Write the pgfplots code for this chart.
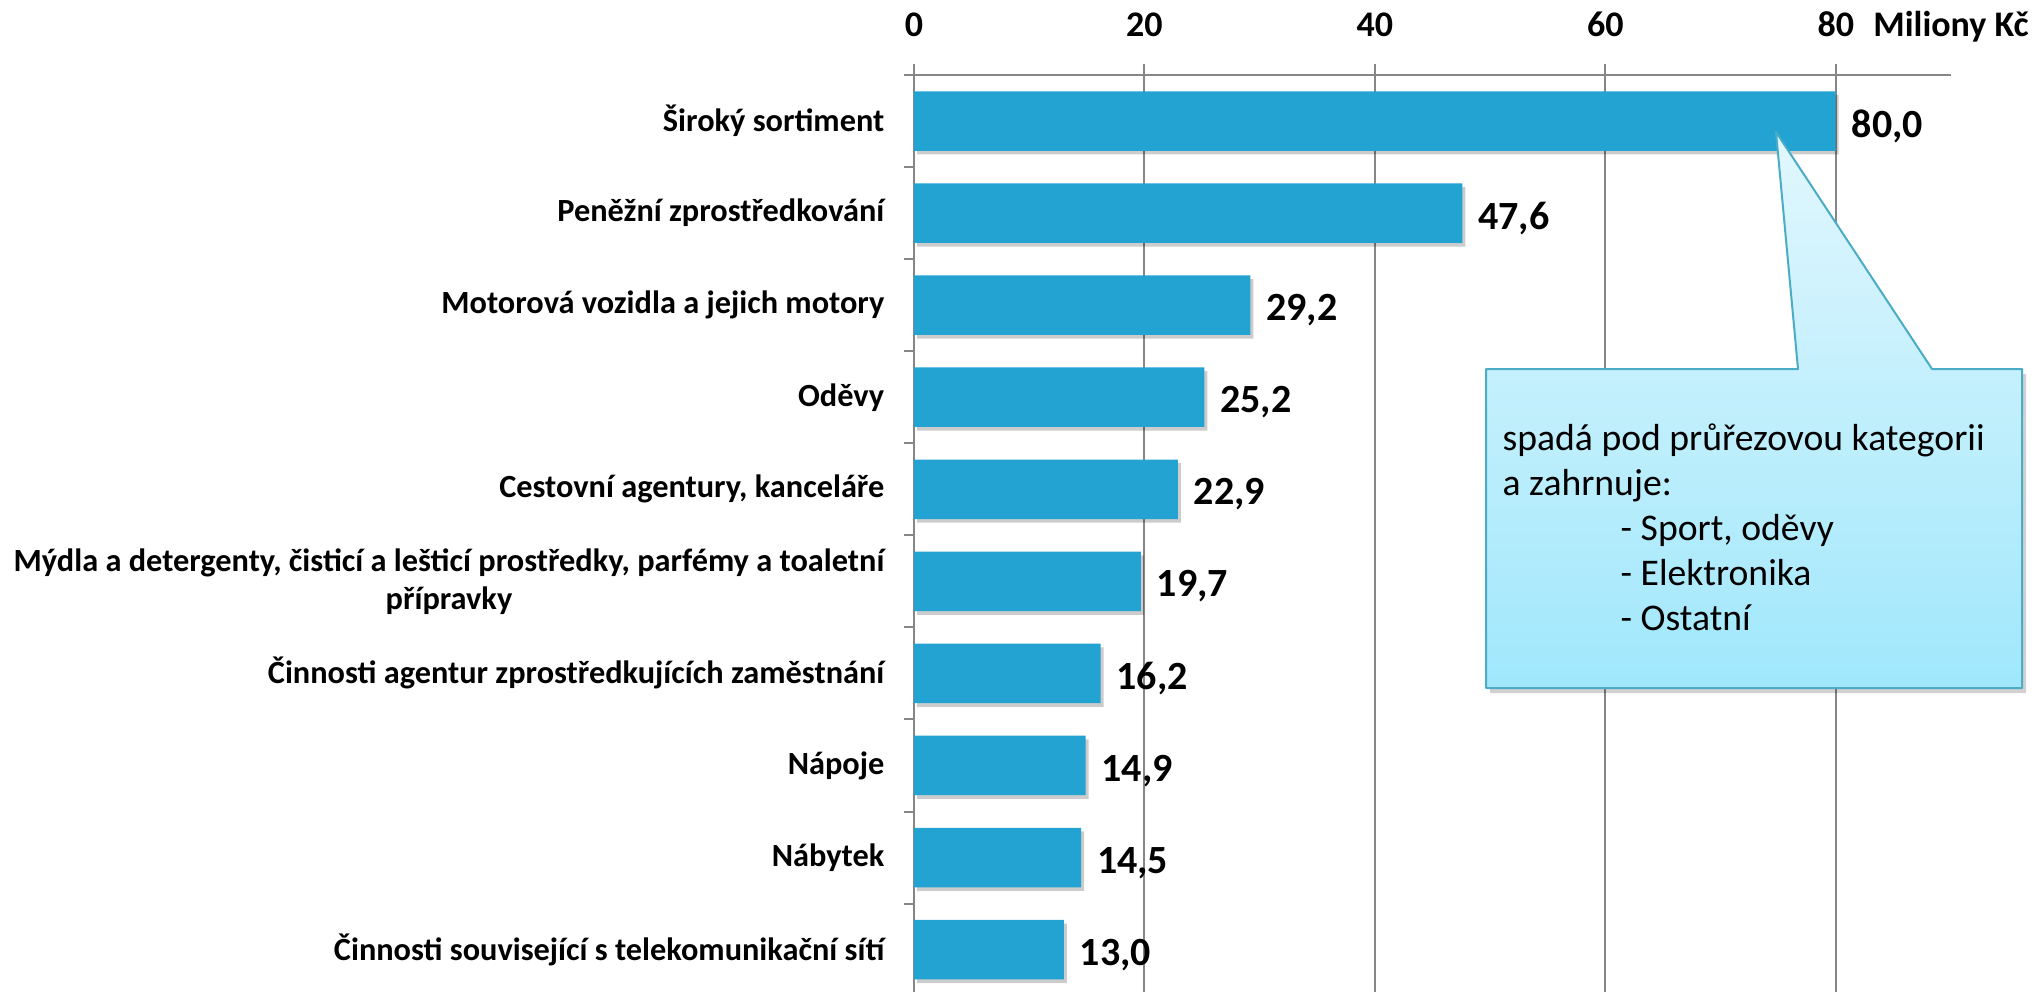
\documentclass[border=0pt]{standalone}
\usepackage{pgfplots}
\pgfplotsset{compat=1.18}
\usepackage{fontspec}
\setmainfont{Carlito}
\usetikzlibrary{shadows}
\definecolor{barblue}{HTML}{22A3D2}
\definecolor{gridgray}{HTML}{868686}
\definecolor{callborder}{HTML}{4BACC6}
\definecolor{calltop}{HTML}{E2F7FD}
\definecolor{callbot}{HTML}{A0E7FC}
\begin{document}
\begin{tikzpicture}
\begin{axis}[
  name=ax, at={(0pt,0pt)}, anchor=north west,
  scale only axis, width=311.1pt, height=276.2pt,
  xbar, bar width=17.85pt,
  xmin=0, xmax=90, ymin=-0.5, ymax=9.5,
  enlargelimits=false, clip=false,
  axis x line*=top, axis y line*=left,
  axis line style={draw=gridgray, line width=0.6pt, -},
  tick align=outside,
  major tick length=3.3pt, minor tick length=3pt,
  tick style={draw=gridgray, line width=0.6pt},
  xtick={0,20,40,60,80},
  xticklabels={0,20,40,60,80},
  extra x ticks={90},
  extra x tick labels={Miliony Kč},
  extra x tick style={grid=none, tick style={draw=none}},
  xmajorgrids,
  major grid style={draw=gridgray, line width=0.6pt},
  ytick={0,...,9},
  yticklabels={Činnosti související s telekomunikační sítí, Nábytek, Nápoje, Činnosti agentur zprostředkujících zaměstnání, {Mýdla a detergenty, čisticí a lešticí prostředky, parfémy a toaletní\\přípravky}, {Cestovní agentury, kanceláře}, Oděvy, Motorová vozidla a jejich motory, Peněžní zprostředkování, Široký sortiment},
  minor ytick={-0.5,0.5,...,9.5},
  major y tick style={draw=none},
  yticklabel style={font=\bfseries\fontsize{9.7}{11.4}\selectfont, align=center, inner sep=0pt, xshift=-5.4pt},
  xticklabel style={font=\bfseries\fontsize{10.8}{12}\selectfont, inner sep=0pt, text depth=0pt, yshift=8pt},
  nodes near coords,
  every node near coord/.append style={font=\bfseries\fontsize{12}{14}\selectfont, anchor=west, inner sep=0pt, xshift=4.6pt, text depth=0pt, yshift=-0.75pt, color=black},
  /pgf/number format/fixed, /pgf/number format/fixed zerofill,
  /pgf/number format/precision=1, /pgf/number format/use comma,
  /pgf/number format/assume math mode=true,
]
\addplot[fill=barblue, draw=none, drop shadow={shadow xshift=0.9pt, shadow yshift=-1.1pt, fill=black, opacity=0.2}]
  coordinates {(13.0,0) (14.5,1) (14.9,2) (16.2,3) (19.7,4) (22.9,5) (25.2,6) (29.2,7) (47.6,8) (80.0,9)};
\end{axis}
\begin{scope}[shift={(ax.north west)}, x=0.3pt, y=-0.3pt, shift={(-914,-75)}]
% callout
\fill[black, opacity=0.18] (1490,374) -- (1802,374) -- (1780,137) -- (1936,374) -- (2026,374) -- (2026,693) -- (1490,693) -- cycle;
\shade[top color=calltop, bottom color=callbot] (1486,369) -- (1798,369) -- (1776,132) -- (1932,369) -- (2022,369) -- (2022,688) -- (1486,688) -- cycle;
\draw[callborder, line width=0.6pt, line join=round] (1486,369) -- (1798,369) -- (1776,132) -- (1932,369) -- (2022,369) -- (2022,688) -- (1486,688) -- cycle;
\begin{scope}[every node/.style={anchor=base west, inner sep=0pt, font=\fontsize{11.3}{13.5}\selectfont}]
\node at (1502,450) {spadá pod průřezovou kategorii};
\node at (1502,495) {a zahrnuje:};
\node at (1620,540) {- Sport, oděvy};
\node at (1620,585) {- Elektronika};
\node at (1620,630) {- Ostatní};
\end{scope}
\pgfresetboundingbox
\path[use as bounding box] (0,0) rectangle (2039,992);
\end{scope}
\end{tikzpicture}
\end{document}
